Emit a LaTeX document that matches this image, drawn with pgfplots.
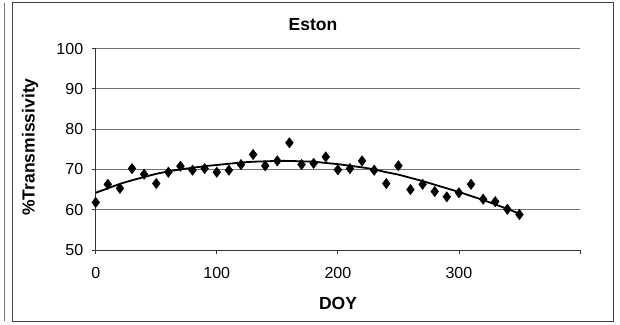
\documentclass[border=0pt]{standalone}
\usepackage{fontspec}
\setmainfont{Liberation Sans}
\usepackage{pgfplots}
\usepackage{pgfplotstable}
\pgfplotsset{compat=1.18}

% daily transmissivity observations (DOY, %)
\pgfplotstableread{
doy  trans
0    61.8
10   66.3
20   65.3
30   70.2
40   68.8
50   66.5
60   69.3
70   70.8
80   69.8
90   70.2
100  69.3
110  69.8
120  71.2
130  73.7
140  70.9
150  72.1
160  76.6
170  71.2
180  71.5
190  73.1
200  69.9
210  70.2
220  72.1
230  69.8
240  66.5
250  70.9
260  65.0
270  66.3
280  64.5
290  63.2
300  64.2
310  66.3
320  62.6
330  62.0
340  60.1
350  58.8
}\obs

% fitted seasonal trend
\pgfplotstableread{
doy  fit
0    64.2
10   65.3
20   66.4
30   67.3
40   68.1
50   68.9
60   69.5
70   70.0
80   70.4
90   70.8
100  71.1
110  71.4
120  71.7
130  71.9
140  72.0
150  72.1
160  72.1
170  72.0
180  71.9
190  71.6
200  71.3
210  70.9
220  70.5
230  70.0
240  69.3
250  68.7
260  67.9
270  67.1
280  66.2
290  65.3
300  64.4
310  63.4
320  62.4
330  61.3
340  60.2
350  59.0
}\trend

\begin{document}
\begin{tikzpicture}
\path[use as bounding box] (0pt,0pt) rectangle (620pt,324pt);
% chart area frame
\draw[black!75, line width=0.9pt] (12pt,3pt) rectangle (613pt,321.5pt);
\draw[black!55, line width=0.8pt] (4.5pt,3pt) -- (4.5pt,321pt);

\begin{axis}[
  at={(95.7pt,74pt)}, anchor=south west,
  scale only axis, width=484.3pt, height=201.5pt,
  xmin=0, xmax=400, ymin=50, ymax=100,
  xtick={0,100,200,300,400},
  xticklabels={0,100,200,300,},
  ytick={50,60,70,80,90,100},
  axis x line*=bottom, axis y line*=left,
  axis line style={-, black!80, line width=0.8pt},
  ymajorgrids,
  grid style={black!55, line width=0.8pt},
  tick align=outside, major tick length=4pt,
  tick style={black!80, line width=0.8pt},
  xticklabel shift=10pt,
  yticklabel shift=5pt,
  tick label style={font=\fontsize{16}{18}\selectfont},
  /pgf/number format/assume math mode=true,
  clip=false,
]
\addplot[only marks, mark=diamond*, mark size=5.2pt, black] table[x=doy, y=trans] {\obs};
\addplot[black, line width=1.8pt, smooth] table[x=doy, y=fit] {\trend};
\end{axis}

\node[font=\fontsize{17.5}{20}\selectfont\bfseries] at (313pt,299pt) {Eston};
\node[font=\fontsize{17.5}{20}\selectfont\bfseries] at (338pt,21pt) {DOY};
\node[font=\fontsize{17.5}{20}\selectfont\bfseries, rotate=90] at (30pt,177pt) {\%Transmissivity};
\end{tikzpicture}
\end{document}
